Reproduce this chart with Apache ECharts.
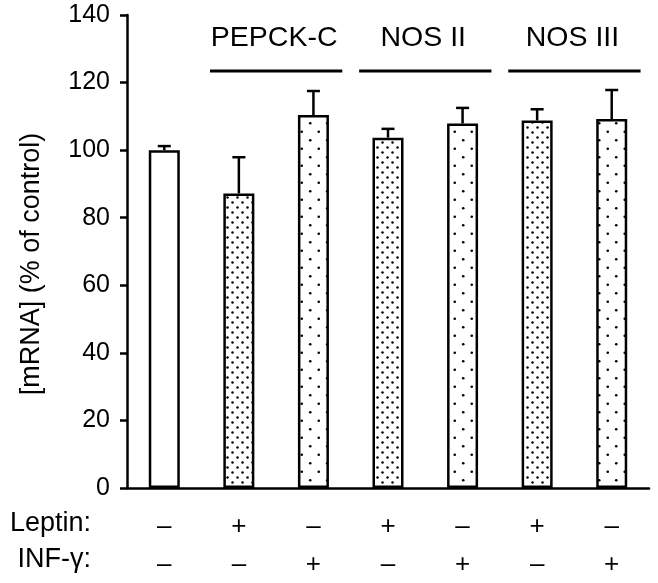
<!DOCTYPE html>
<html><head><meta charset="utf-8">
<script src="https://cdn.jsdelivr.net/npm/echarts@6/dist/echarts.min.js"></script>
<style>html,body{margin:0;padding:0;background:#fff}#c{width:658px;height:583px}</style>
</head><body><div id="c"></div>
<script>
// ---- data ----
const leptin   = ['–', '+', '–', '+', '–', '+', '–'];
const infGamma = ['–', '–', '+', '–', '+', '–', '+'];
const values   = [100, 87.2, 110.4, 103.7, 107.9, 108.8, 109.2];
const errors   = [1.2, 10.7, 7.1, 2.6, 4.6, 3.3, 8.6];
const groupNames = ['PEPCK-C', 'NOS II', 'NOS III'];
const groupStart = [1, 3, 5];
const yTitle = '[mRNA] (% of control)';
const yMin = 0, yMax = 140, yStep = 20;

// ---- styling helpers ----
const FONT = '"Liberation Sans", Arial, Helvetica, sans-serif';
function makePattern(step, r) {
  const c = document.createElement('canvas');
  c.width = step; c.height = step;
  const g = c.getContext('2d');
  g.fillStyle = '#fff'; g.fillRect(0, 0, step, step);
  g.fillStyle = '#000';
  [[step / 4, step / 4], [3 * step / 4, 3 * step / 4]].forEach(([x, y]) => {
    g.beginPath(); g.arc(x, y, r, 0, Math.PI * 2); g.fill();
  });
  return { image: c, repeat: 'repeat' };
}
const dense = makePattern(10, 1.25);
const sparse = makePattern(17, 1.3);

const barData = values.map((v, i) => ({
  value: v,
  itemStyle: { color: leptin[i] === '+' ? dense : (infGamma[i] === '+' ? sparse : '#fff') }
}));
const errData = values.map((v, i) => [i, v, v + errors[i]]);
const groupData = groupStart.map((s, i) => [s, s + 1, i]);

const chart = echarts.init(document.getElementById('c'));
chart.setOption({
  animation: false,
  backgroundColor: '#fff',
  grid: { left: 127, right: 9, top: 15, bottom: 95 },
  xAxis: [
    {
      type: 'category', data: leptin, position: 'bottom',
      axisLine: { lineStyle: { color: '#000', width: 2.5 } },
      axisTick: { length: 7, lineStyle: { color: '#000', width: 2.5 } },
      axisLabel: { color: '#000', fontSize: 26, fontFamily: FONT, margin: 26 }
    },
    {
      type: 'category', data: infGamma, position: 'bottom', offset: 38,
      axisLine: { show: false }, axisTick: { show: false },
      axisLabel: { color: '#000', fontSize: 26, fontFamily: FONT, margin: 26 }
    }
  ],
  yAxis: {
    type: 'value', min: yMin, max: yMax, interval: yStep,
    axisLine: { show: true, lineStyle: { color: '#000', width: 2.5 } },
    axisTick: { show: true, length: 7, lineStyle: { color: '#000', width: 2.5 } },
    axisLabel: { color: '#000', fontSize: 25, fontFamily: FONT, margin: 17 },
    splitLine: { show: false }
  },
  series: [
    {
      type: 'bar', data: barData, barWidth: 31,
      itemStyle: { borderColor: '#000', borderWidth: 2.5 }
    },
    {
      type: 'custom', data: errData, z: 3,
      renderItem: function (params, api) {
        const i = api.value(0);
        const base = api.coord([i, api.value(1)]);
        const top = api.coord([i, api.value(2)]);
        const st = { stroke: '#000', lineWidth: 2.5 };
        return { type: 'group', children: [
          { type: 'line', shape: { x1: base[0], y1: base[1], x2: top[0], y2: top[1] }, style: st },
          { type: 'line', shape: { x1: top[0] - 6.5, y1: top[1], x2: top[0] + 6.5, y2: top[1] }, style: st }
        ] };
      }
    },
    {
      type: 'custom', data: groupData, z: 3, clip: false,
      renderItem: function (params, api) {
        const a = api.coord([api.value(0), 0])[0];
        const b = api.coord([api.value(1), 0])[0];
        const bw = api.size([1, 0])[0];
        const cx = (a + b) / 2;
        const half = bw * 0.887;
        const ly = api.coord([0, 123.4])[1];
        const ty = api.coord([0, 133.2])[1];
        return { type: 'group', children: [
          { type: 'line', shape: { x1: cx - half, y1: ly, x2: cx + half, y2: ly },
            style: { stroke: '#000', lineWidth: 3 } },
          { type: 'text', style: { text: groupNames[api.value(2)], x: cx - 2, y: ty,
            textAlign: 'center', textVerticalAlign: 'middle', fill: '#000',
            font: '28.5px ' + FONT } }
        ] };
      }
    }
  ],
  graphic: [
    { type: 'text', rotation: Math.PI / 2, x: 32, y: 264,
      style: { text: yTitle, x: 0, y: 0, textAlign: 'center', textVerticalAlign: 'middle', fill: '#000', font: '27px ' + FONT } },
    { type: 'text', style: { text: 'Leptin:', x: 91, y: 524, textAlign: 'right', textVerticalAlign: 'middle', fill: '#000', font: '27px ' + FONT } },
    { type: 'text', style: { text: 'INF-γ:', x: 91, y: 560, textAlign: 'right', textVerticalAlign: 'middle', fill: '#000', font: '27px ' + FONT } }
  ]
});
</script>
</body></html>
